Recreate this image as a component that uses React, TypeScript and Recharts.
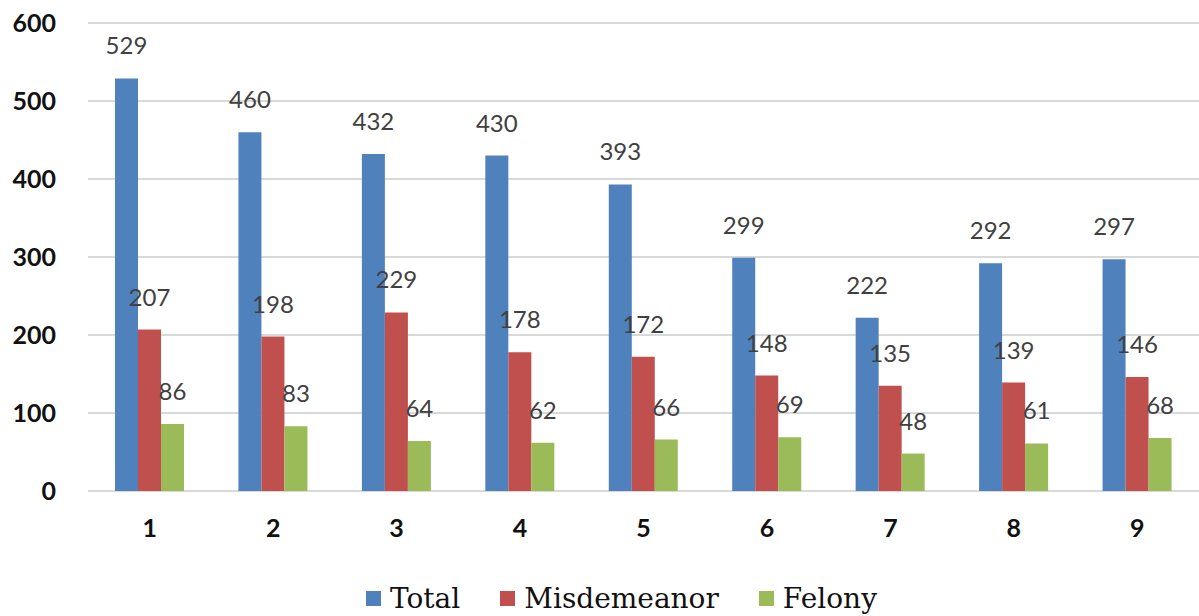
import { BarChart, Bar, XAxis, YAxis, CartesianGrid, Legend, LabelList } from "recharts";

const categories = ["1", "2", "3", "4", "5", "6", "7", "8", "9"];
const total = [529, 460, 432, 430, 393, 299, 222, 292, 297];
const misdemeanor = [207, 198, 229, 178, 172, 148, 135, 139, 146];
const felony = [86, 83, 64, 62, 66, 69, 48, 61, 68];
const yTicks = [0, 100, 200, 300, 400, 500, 600];

const seriesList = [
  { key: "total", name: "Total", color: "#4f81bd" },
  { key: "misdemeanor", name: "Misdemeanor", color: "#c0504d" },
  { key: "felony", name: "Felony", color: "#9bbb59" },
];

const data = categories.map((c, i) => ({
  name: c,
  total: total[i],
  misdemeanor: misdemeanor[i],
  felony: felony[i],
}));

const labelStyle = { fontFamily: "Lato", fontSize: 24, fill: "#404040" };
const tickStyle = { fontFamily: "Lato", fontSize: 25, fontWeight: 700, fill: "#111" };

function LegendBox() {
  return (
    <div
      style={{
        display: "flex",
        justifyContent: "center",
        alignItems: "center",
        gap: 40,
        fontFamily: "DejaVu Serif",
        fontSize: 28,
        color: "#111",
        paddingLeft: 44,
      }}
    >
      {seriesList.map((s) => (
        <div key={s.key} style={{ display: "flex", alignItems: "center" }}>
          <span style={{ width: 15, height: 15, background: s.color, marginRight: 9, display: "inline-block" }} />
          <span>{s.name}</span>
        </div>
      ))}
    </div>
  );
}

export default function App() {
  return (
    <div style={{ position: "absolute", left: 0, top: 0, background: "#fff" }}>
      <BarChart
        width={1199}
        height={616}
        data={data}
        margin={{ top: 23, right: 0, bottom: 0, left: 0 }}
        barCategoryGap={27}
        barGap={0}
      >
        <CartesianGrid vertical={false} stroke="#d9d9d9" strokeWidth={2} />
        <XAxis
          dataKey="name"
          axisLine={false}
          tickLine={false}
          height={91}
          tickMargin={22}
          tick={tickStyle}
        />
        <YAxis
          domain={[0, 600]}
          ticks={yTicks}
          width={88}
          axisLine={false}
          tickLine={false}
          tickMargin={26}
          tick={tickStyle}
        />
        <Legend verticalAlign="bottom" height={34} content={() => <LegendBox />} />
        {seriesList.map((s) => (
          <Bar key={s.key} dataKey={s.key} name={s.name} fill={s.color} isAnimationActive={false}>
            <LabelList dataKey={s.key} position="top" offset={24} style={labelStyle} />
          </Bar>
        ))}
      </BarChart>
    </div>
  );
}
